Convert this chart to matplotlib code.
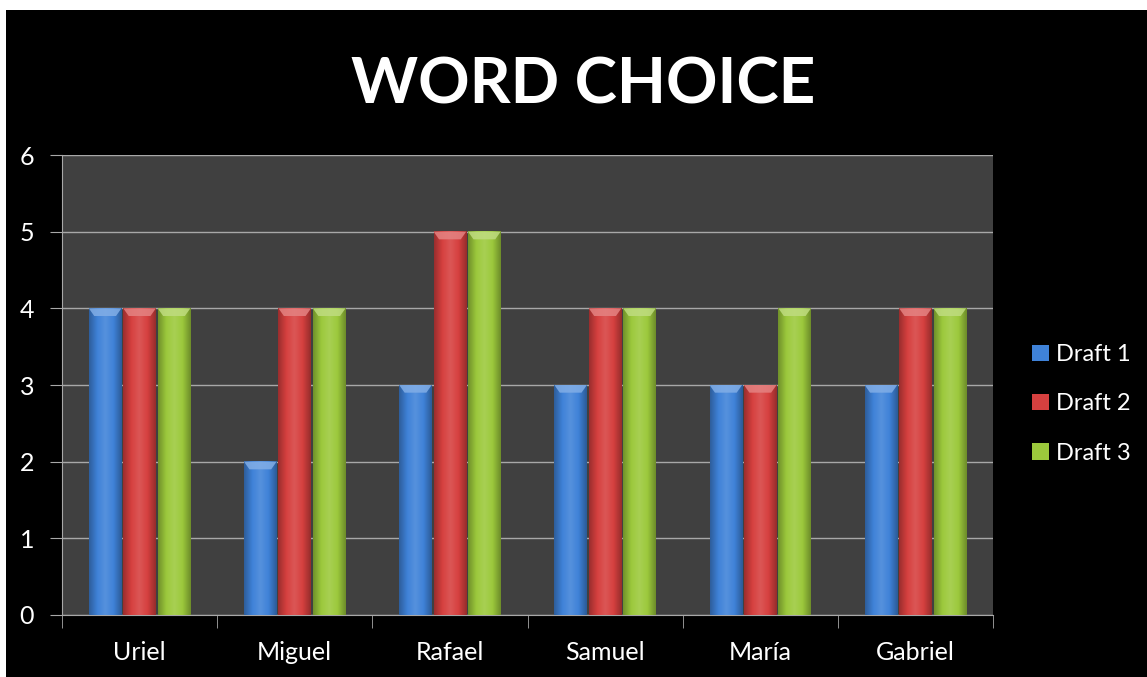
import numpy as np
import matplotlib
matplotlib.use('Agg')
import matplotlib.pyplot as plt
from matplotlib.colors import LinearSegmentedColormap, to_rgb
from matplotlib.patches import Rectangle, Polygon

names = ['Uriel', 'Miguel', 'Rafael', 'Samuel', 'María', 'Gabriel']
draft1 = [4, 2, 3, 3, 3, 3]
draft2 = [4, 4, 5, 4, 3, 4]
draft3 = [4, 4, 5, 4, 4, 4]
series = ['Draft 1', 'Draft 2', 'Draft 3']
colors = ['#3f82d8', '#d6403f', '#9cc93c']

plt.rcParams['font.family'] = ['Lato', 'DejaVu Sans']

fig = plt.figure(figsize=(11.47, 6.77), dpi=100)
fig.patch.set_facecolor('white')
# black slide background, thin white margin at top/left
fig.patches.append(Rectangle((6 / 1147, 0), 1, 1 - 10 / 677, transform=fig.transFigure,
                             facecolor='black', edgecolor='none', zorder=-10))

ax = fig.add_axes([62 / 1147, 62 / 677, (993 - 62) / 1147, (615 - 155) / 677])
ax.set_facecolor('#404040')

def shade(c, f):
    r = np.array(to_rgb(c))
    if f < 1:
        return tuple(r * f)
    return tuple(r + (1 - r) * (f - 1))

x = np.arange(len(names))
w = 0.21
offs = [-0.222, 0.0, 0.222]
for vals, col, off in zip([draft1, draft2, draft3], colors, offs):
    cmap = LinearSegmentedColormap.from_list(
        'g', [shade(col, 0.72), shade(col, 1.0), shade(col, 1.12), shade(col, 1.0), shade(col, 0.7)])
    grad = np.linspace(0, 1, 64).reshape(1, -1)
    for xi, v in zip(x, vals):
        x0, x1 = xi + off - w / 2, xi + off + w / 2
        ax.imshow(grad, extent=[x0, x1, 0, v], cmap=cmap, aspect='auto',
                  zorder=3, interpolation='bicubic')
        ax.add_patch(Polygon([(x0, v), (x1, v), (x1 - 0.035, v - 0.1), (x0 + 0.035, v - 0.1)],
                             closed=True, facecolor=shade(col, 1.35), edgecolor='none',
                             alpha=0.85, zorder=4))

ax.set_xlim(-0.5, len(names) - 0.5)
ax.set_ylim(0, 6)
ax.set_yticks(range(7))
ax.yaxis.grid(True, color='#a8a8a8', linewidth=1)
ax.set_axisbelow(True)

ax.set_xticks(x)
ax.set_xticklabels(names)
ax.set_xticks(np.arange(-0.5, len(names)), minor=True)
ax.tick_params(axis='x', which='major', length=0, pad=19, labelsize=18, labelcolor='white')
ax.tick_params(axis='x', which='minor', length=9, color='#a8a8a8', direction='out')
ax.tick_params(axis='y', length=9, color='#a8a8a8', pad=11, labelsize=18, labelcolor='white')

for s in ['top', 'right']:
    ax.spines[s].set_visible(False)
for s in ['left', 'bottom']:
    ax.spines[s].set_color('#a8a8a8')

fig.text(583 / 1147, 1 - 103 / 677, 'WORD CHOICE', color='white', fontsize=46,
         fontweight='bold', ha='center', va='baseline')

handles = [Rectangle((0, 0), 1, 1, facecolor=c) for c in colors]
leg = fig.legend(handles, series, loc='center left', bbox_to_anchor=(1011 / 1147, 1 - 404 / 677),
                 frameon=False, fontsize=17, labelcolor='white', handlelength=0.7,
                 handleheight=0.7, handletextpad=0.3, labelspacing=1.2)

fig.savefig('out.png', dpi=100, facecolor=fig.get_facecolor())
